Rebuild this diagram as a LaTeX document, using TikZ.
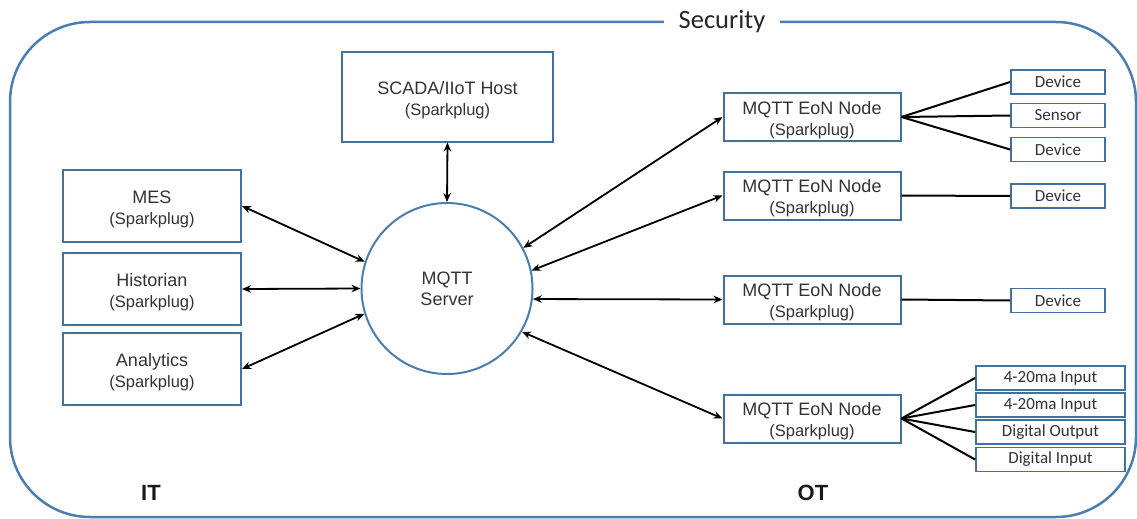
\documentclass[tikz,border=0pt]{standalone}
\usepackage{fontspec}
\setmainfont{Liberation Sans}
\newfontfamily\carl{Carlito}
\usetikzlibrary{arrows.meta}
\definecolor{boxblue}{HTML}{41719C}
\definecolor{zoneblue}{HTML}{4A7EB0}
\tikzset{
  x=1pt, y=-1pt,
  box/.style={draw=boxblue, line width=2pt, fill=white, inner sep=0pt,
    align=center, font=\fontsize{18}{21}\selectfont, text=black!80},
  itbox/.style={box, minimum width=178pt, minimum height=72pt},
  eonbox/.style={box, minimum width=177pt, minimum height=48pt},
  devbox/.style={box, line width=1.8pt, minimum width=94pt, minimum height=24pt,
    font=\carl\fontsize{17}{20}\selectfont},
  iobox/.style={devbox, minimum width=149pt},
  link/.style={{Stealth[length=9pt,width=7.5pt]}-{Stealth[length=9pt,width=7.5pt]}, line width=1.8pt},
  fan/.style={line width=2pt},
}
% subtitle line and a strut that lowers the two-line labels a little
\newcommand{\spk}{{\fontsize{16.5}{20}\selectfont(Sparkplug)}}
\newcommand{\lowr}{\rule{0pt}{19pt}}
\begin{document}
\begin{tikzpicture}
\useasboundingbox (0,0) rectangle (1137,519);
% security zone
\draw[zoneblue, line width=2.5pt, rounded corners=80pt] (10,22) rectangle (1136,517);
\node[fill=white, inner xsep=15pt, inner ysep=2pt, font=\carl\fontsize{26.5}{29}\selectfont, text=black!85] (sec) at (722,22) {Security};

% IT side
\node[box, minimum width=211pt, minimum height=89pt] (scada) at (447.5,97) {\lowr SCADA/IIoT Host\\\spk};
\node[itbox] (mes)  at (152,206) {\lowr MES\\\spk};
\node[itbox] (hist) at (152,289) {\lowr Historian\\\spk};
\node[itbox] (anal) at (152,369) {\lowr Analytics\\\spk};

\node[draw=zoneblue, line width=2pt, circle, minimum size=171pt, inner sep=0pt,
  align=center, font=\fontsize{18}{21}\selectfont, text=black!80] (server) at (447,288.5) {MQTT\\Server};

% OT side
\node[eonbox] (eon1) at (812,117)   {\lowr MQTT EoN Node\\\spk};
\node[eonbox] (eon2) at (812,195.5) {\lowr MQTT EoN Node\\\spk};
\node[eonbox] (eon3) at (812,299.5) {\lowr MQTT EoN Node\\\spk};
\node[eonbox] (eon4) at (812,418.5) {\lowr MQTT EoN Node\\\spk};

\node[devbox] (d1) at (1058,82)    {Device};
\node[devbox] (d2) at (1058,115.5) {Sensor};
\node[devbox] (d3) at (1058,149.5) {Device};
\node[devbox] (d4) at (1058,196)   {Device};
\node[devbox] (d5) at (1058,300.5) {Device};

\node[iobox] (i1) at (1050.5,378) {4-20ma Input};
\node[iobox] (i2) at (1050.5,405) {4-20ma Input};
\node[iobox] (i3) at (1050.5,432) {Digital Output};
\node[iobox] (i4) at (1050.5,459.5) {Digital Input};

\node[font=\bfseries\fontsize{22}{24}\selectfont, text=black!90] (it) at (151,493) {IT};
\node[font=\bfseries\fontsize{22}{24}\selectfont, text=black!90] (ot) at (813,493) {OT};

% connections to the server
\draw[link] (scada.south) -- (server.90);
\draw[link] (mes.east)  -- (server.162);
\draw[link] (hist.east) -- (server.180);
\draw[link] (anal.east) -- (server.197.5);
\draw[link] (server.28.6) -- (eon1.west);
\draw[link] (server.12.6) -- (eon2.west);
\draw[link] (server.-7.5) -- (eon3.west);
\draw[link] (server.-30)  -- (eon4.west);

% field wiring
\foreach \t in {d1,d2,d3} \draw[fan] (eon1.east) -- (\t.west);
\draw[fan] (eon2.east) -- (d4.west);
\draw[fan] (eon3.east) -- (d5.west);
\foreach \t in {i1,i2,i3,i4} \draw[fan] (eon4.east) -- (\t.west);
\end{tikzpicture}
\end{document}
